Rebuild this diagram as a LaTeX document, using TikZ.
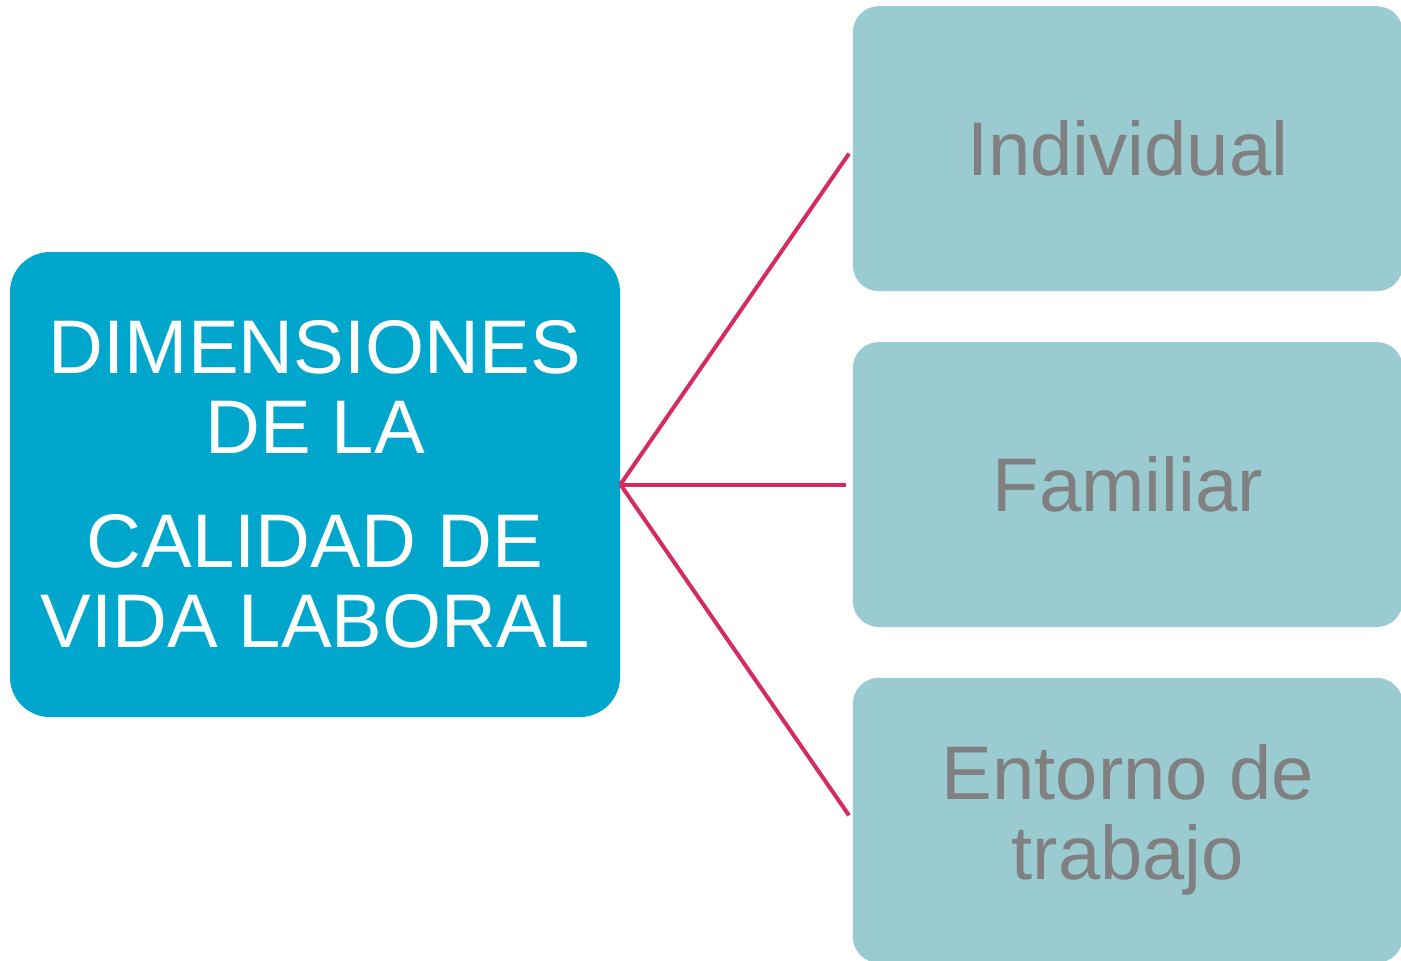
\documentclass[tikz,border=0pt]{standalone}
\usepackage{fontspec}
\setmainfont{Liberation Sans}
\usetikzlibrary{positioning}
\definecolor{deepcyan}{RGB}{0, 166, 203}
\definecolor{palecyan}{RGB}{153, 203, 209}
\definecolor{textgray}{RGB}{128, 128, 128}
\definecolor{crimson}{RGB}{213, 43, 96}

\begin{document}
\begin{tikzpicture}
  [
    x                       = 0.5pt,
    y                       = 0.5pt,
    every node/.style       = {font=\fontsize{38}{40}\selectfont, align=center}
  ]
  \useasboundingbox (0,0) rectangle (1401,-960);
  \begin{scope}[root/.style={rectangle,rounded corners=20pt,fill=deepcyan,text=white,
  			minimum width=305pt,minimum height=232.5pt,inner sep=0pt},
  			leaf/.style={rectangle,rounded corners=13pt,fill=palecyan,text=textgray,
  			minimum width=275pt,minimum height=142.5pt,inner sep=0pt},
  			link/.style={draw=crimson,line width=2pt,shorten >=3pt}]
  \node [root] (dim) at (315,-484.5) {DIMENSIONES\\DE LA\\[17pt]CALIDAD DE\\VIDA LABORAL};
  \node [leaf] (fam) [right=116pt of dim] {Familiar};
  \node [leaf] (ind) [above=25pt of fam] {Individual};
  \node [leaf] (trab) [below=25pt of fam] {Entorno de\\trabajo};
  \path[link] (dim.east) -- (ind.west);
  \path[link] (dim.east) -- (fam.west);
  \path[link] (dim.east) -- (trab.west);
  \end{scope}
\end{tikzpicture}
\end{document}
